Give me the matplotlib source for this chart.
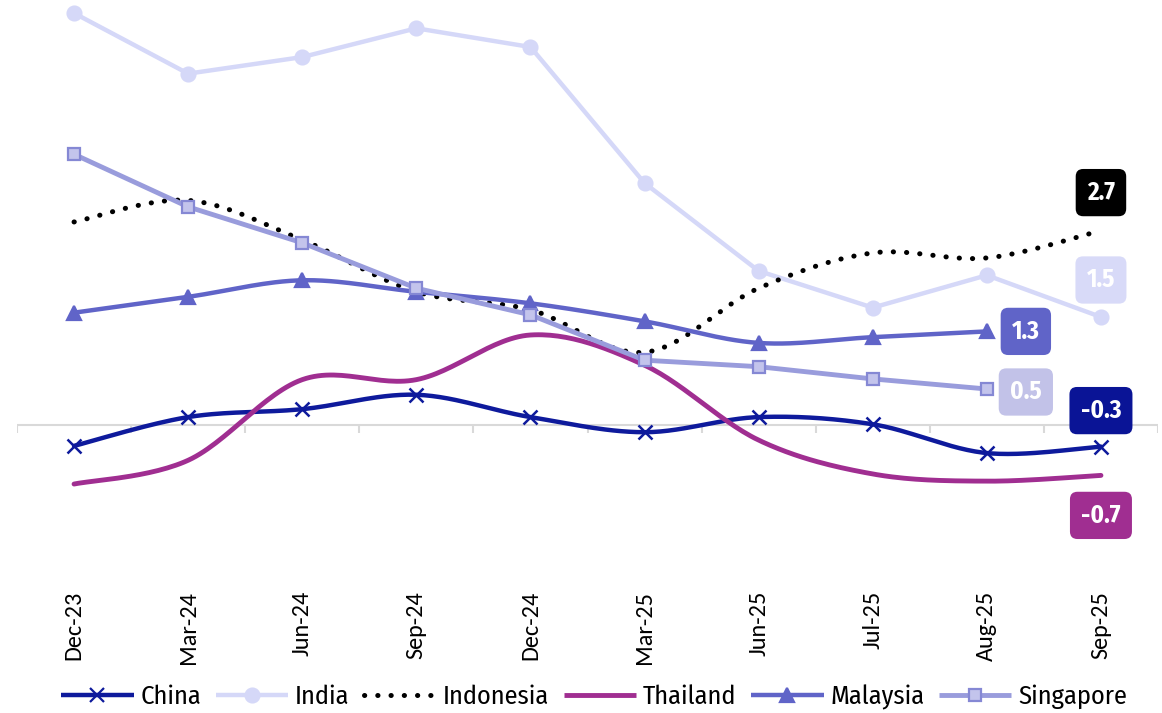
import numpy as np
import matplotlib
matplotlib.use("Agg")
import matplotlib.pyplot as plt
from matplotlib.lines import Line2D

TEXT_FONT = ['Fira Sans Condensed', 'Fira Sans', 'Lato', 'DejaVu Sans']
TICK_FONT = ['Carlito', 'Fira Sans Condensed', 'Lato', 'DejaVu Sans']
plt.rcParams['font.family'] = TEXT_FONT

categories = ["Dec-23", "Mar-24", "Jun-24", "Sep-24", "Dec-24", "Mar-25",
              "Jun-25", "Jul-25", "Aug-25", "Sep-25"]

china = [-0.29, 0.11, 0.22, 0.42, 0.11, -0.10, 0.11, 0.01, -0.39, -0.3]
india = [5.72, 4.88, 5.11, 5.51, 5.25, 3.36, 2.14, 1.63, 2.08, 1.5]
indonesia = [2.82, 3.12, 2.57, 1.85, 1.60, 1.01, 1.90, 2.39, 2.32, 2.7]
thailand = [-0.82, -0.49, 0.63, 0.63, 1.25, 0.83, -0.21, -0.68, -0.78, -0.7]
malaysia = [1.56, 1.78, 2.01, 1.85, 1.69, 1.44, 1.14, 1.22, 1.3]
singapore = [3.76, 3.03, 2.53, 1.90, 1.53, 0.90, 0.81, 0.64, 0.5]

series = [
    dict(name="China", y=china, color="#0e1a9c", marker="x", ms=10, mfc="#0e1a9c", mec="#0e1a9c",
         smooth=True, ls="-", lw=3.2, label="-0.3", off=(0, 36), box="#0a1496", tc="white"),
    dict(name="India", y=india, color="#d5d8f8", marker="o", ms=10, mfc="#d5d8f8", mec="#d5d8f8",
         smooth=False, ls="-", lw=3.2, label="1.5", off=(0, 37), box="#d8daf8", tc="white"),
    dict(name="Indonesia", y=indonesia, color="#000000", marker=None, ms=0, mfc="k", mec="k",
         smooth=True, ls=(0, (0.05, 2.6)), lw=3.6, label="2.7", off=(0, 38), box="#000000", tc="white"),
    dict(name="Thailand", y=thailand, color="#a02e91", marker=None, ms=0, mfc="k", mec="k",
         smooth=True, ls="-", lw=3.5, label="-0.7", off=(0, -40), box="#a02e91", tc="white"),
    dict(name="Malaysia", y=malaysia, color="#6064c8", marker="^", ms=10, mfc="#6064c8", mec="#6064c8",
         smooth=True, ls="-", lw=3.2, label="1.3", off=(39, 0), box="#6064c8", tc="white"),
    dict(name="Singapore", y=singapore, color="#999cdc", marker="s", ms=9, mfc="#c3c4ec", mec="#8588d4",
         smooth=False, ls="-", lw=3.5, label="0.5", off=(39, -3), box="#c2c2e8", tc="white"),
]


def catmull(xs, ys, n=30):
    xs = np.asarray(xs, float)
    ys = np.asarray(ys, float)
    px = np.concatenate([[xs[0]], xs, [xs[-1]]])
    py = np.concatenate([[ys[0]], ys, [ys[-1]]])
    outx, outy = [], []
    t = np.linspace(0, 1, n)
    for i in range(1, len(px) - 2):
        p0 = np.array([px[i], py[i]])
        p3 = np.array([px[i + 1], py[i + 1]])
        c1 = p0 + (np.array([px[i + 1], py[i + 1]]) - np.array([px[i - 1], py[i - 1]])) / 6
        c2 = p3 - (np.array([px[i + 2], py[i + 2]]) - np.array([px[i], py[i]])) / 6
        b = ((1 - t) ** 3)[:, None] * p0 + (3 * (1 - t) ** 2 * t)[:, None] * c1 + \
            (3 * (1 - t) * t ** 2)[:, None] * c2 + (t ** 3)[:, None] * p3
        outx.extend(b[:, 0]); outy.extend(b[:, 1])
    return np.array(outx), np.array(outy)


fig = plt.figure(figsize=(11.62, 7.13), dpi=100)
ax = fig.add_axes([17 / 1162, 1 - 562 / 713, (1158 - 17) / 1162, 562 / 713])
ymax = 425 / 72
ymin = -(562 - 425) / 72
ax.set_xlim(-0.5, len(categories) - 0.5)
ax.set_ylim(ymin, ymax)

handles = []
for z, s in enumerate(series):
    x = np.arange(len(s["y"]))
    if s["smooth"]:
        sx, sy = catmull(x, s["y"])
    else:
        sx, sy = x, np.asarray(s["y"])
    kw = dict(color=s["color"], lw=s["lw"], ls=s["ls"], zorder=3 + z,
              solid_capstyle="round", dash_capstyle="round")
    ax.plot(sx, sy, **kw)
    if s["marker"]:
        ax.plot(x, s["y"], ls="none", marker=s["marker"], ms=s["ms"], mfc=s["mfc"], mec=s["mec"],
                mew=1.6 if s["marker"] != "x" else 1.8, zorder=3 + z)
    handles.append(Line2D([0], [0], color=s["color"], lw=s["lw"], ls=s["ls"],
                          dash_capstyle="round", solid_capstyle="butt",
                          marker=s["marker"] if s["marker"] else None, ms=s["ms"],
                          mfc=s["mfc"], mec=s["mec"], mew=1.6))
    ax.annotate(s["label"], xy=(x[-1], s["y"][-1]), xytext=s["off"], textcoords="offset pixels",
                ha="center", va="center", fontsize=18, fontweight="bold", color=s["tc"],
                family=TEXT_FONT,
                bbox=dict(boxstyle="round,pad=0.45,rounding_size=0.3", fc=s["box"], ec="none"),
                zorder=20)

ax.axhline(0, color="#d9d9d9", lw=1.5, zorder=1)
for sp in ax.spines.values():
    sp.set_visible(False)
ax.set_yticks([])
ax.set_xticks(np.arange(len(categories)))
ax.set_xticklabels(categories, rotation=90, fontsize=17.5, family=TICK_FONT)
ax.tick_params(axis="x", length=0, pad=21)
ax.vlines(np.arange(len(categories) + 1) - 0.5, -8 / 72, 0, color="#d9d9d9", lw=1.5, zorder=1)

fig.legend(handles=handles, labels=[s["name"] for s in series], loc="center",
           bbox_to_anchor=(594 / 1162, 16 / 713), ncol=6, frameon=False,
           prop=dict(family=TEXT_FONT, size=19),
           handlelength=2.75, columnspacing=0.55, handletextpad=0.25)

fig.savefig("out.png", dpi=100)
